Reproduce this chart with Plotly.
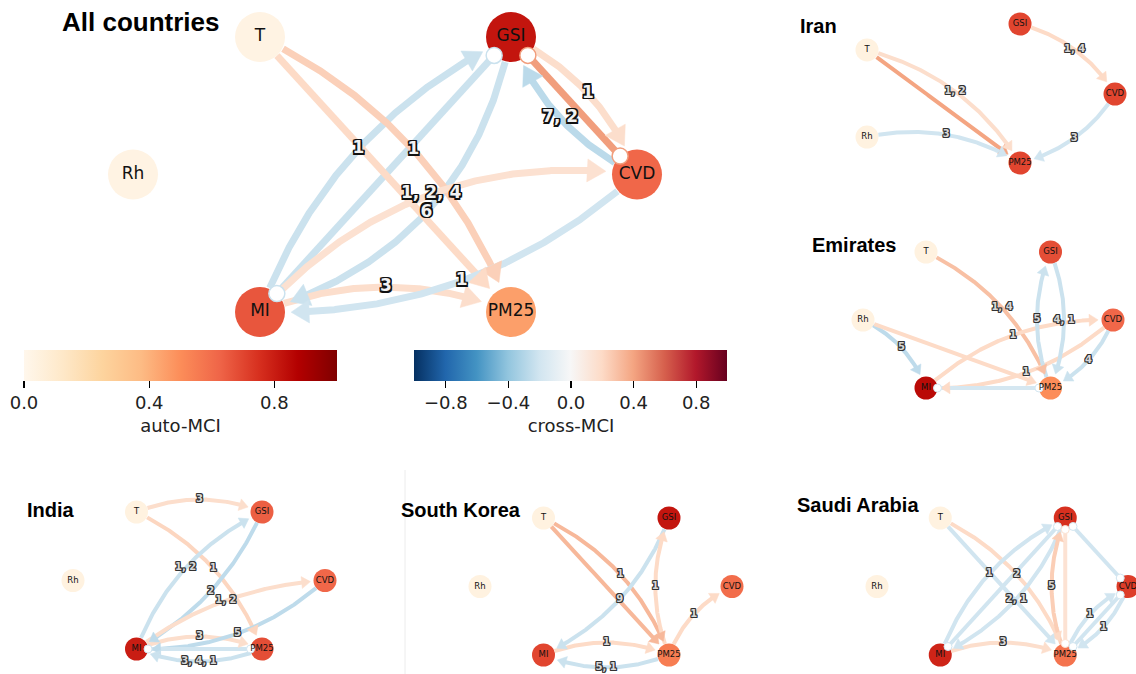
import numpy as np
import plotly.graph_objects as go

# ------------------------------------------------------------------ data
NODES = ["T", "Rh", "GSI", "CVD", "MI", "PM25"]
PANELS = ["All countries", "Iran", "Emirates", "India", "South Korea", "Saudi Arabia"]

# auto-MCI of every node (order of NODES); None = variable absent from that graph
auto_all = [0.03, 0.03, 0.82, 0.62, 0.66, 0.45]
auto_iran = [0.04, 0.04, 0.70, 0.70, None, 0.70]
auto_emirates = [0.04, 0.04, 0.68, 0.62, 0.85, 0.50]
auto_india = [0.04, 0.04, 0.64, 0.62, 0.80, 0.68]
auto_korea = [0.04, 0.04, 0.82, 0.60, 0.70, 0.55]
auto_saudi = [0.04, 0.04, 0.75, 0.72, 0.78, 0.58]

# links: (source, target, cross-MCI, lag label, type)
#   lag = lagged link (curved arrow), con = contemporaneous directed, oo = contemporaneous o-o
links_all = [
    ("MI", "GSI", -0.22, "1", "lag"),
    ("GSI", "MI", -0.22, "6", "lag"),
    ("MI", "GSI", -0.22, "", "oo"),
    ("T", "PM25", 0.24, "1", "lag"),
    ("T", "PM25", 0.20, "", "con"),
    ("MI", "CVD", 0.16, "1, 2, 4", "lag"),
    ("MI", "PM25", 0.18, "3", "lag"),
    ("CVD", "MI", -0.20, "1", "lag"),
    ("GSI", "CVD", 0.18, "1", "lag"),
    ("CVD", "GSI", -0.27, "7, 2", "lag"),
    ("GSI", "CVD", 0.42, "", "oo"),
]
links_iran = [
    ("T", "PM25", 0.40, "", "con"),
    ("T", "PM25", 0.18, "1, 2", "lag"),
    ("Rh", "PM25", -0.20, "3", "lag"),
    ("GSI", "CVD", 0.20, "1, 4", "lag"),
    ("CVD", "PM25", -0.20, "3", "lag"),
]
links_emirates = [
    ("T", "PM25", 0.30, "1, 4", "lag"),
    ("Rh", "MI", -0.26, "5", "lag"),
    ("Rh", "PM25", 0.20, "", "con"),
    ("MI", "CVD", 0.20, "1", "lag"),
    ("CVD", "MI", 0.20, "1", "lag"),
    ("PM25", "GSI", -0.22, "5", "lag"),
    ("GSI", "PM25", -0.22, "4, 1", "lag"),
    ("CVD", "PM25", -0.22, "4", "lag"),
    ("MI", "PM25", -0.18, "", "oo"),
]
links_india = [
    ("T", "GSI", 0.18, "3", "lag"),
    ("T", "PM25", 0.22, "1", "lag"),
    ("MI", "GSI", -0.22, "1, 2", "lag"),
    ("GSI", "MI", -0.26, "2", "lag"),
    ("MI", "CVD", 0.18, "1, 2", "lag"),
    ("MI", "PM25", 0.18, "3", "lag"),
    ("CVD", "MI", -0.26, "5", "lag"),
    ("PM25", "MI", -0.22, "3, 4, 1", "lag"),
    ("MI", "PM25", -0.20, "", "oo"),
]
links_korea = [
    ("T", "PM25", 0.33, "1", "lag"),
    ("T", "PM25", 0.33, "", "con"),
    ("GSI", "MI", -0.22, "9", "lag"),
    ("PM25", "GSI", 0.20, "1", "lag"),
    ("PM25", "CVD", 0.20, "1", "lag"),
    ("MI", "PM25", 0.20, "1", "lag"),
    ("PM25", "MI", -0.22, "5, 1", "lag"),
]
links_saudi = [
    ("T", "PM25", 0.20, "2", "lag"),
    ("T", "PM25", -0.20, "", "con"),
    ("MI", "GSI", -0.20, "1", "lag"),
    ("GSI", "MI", -0.20, "2, 1", "lag"),
    ("MI", "GSI", -0.20, "", "oo"),
    ("MI", "PM25", 0.18, "3", "lag"),
    ("PM25", "GSI", 0.25, "5", "lag"),
    ("PM25", "GSI", 0.15, "", "oo"),
    ("GSI", "CVD", -0.20, "", "oo"),
    ("PM25", "CVD", -0.20, "1", "lag"),
    ("CVD", "PM25", -0.20, "1", "lag"),
    ("PM25", "CVD", -0.20, "", "oo"),
]

AUTO_TICKS = [0.0, 0.4, 0.8]
CROSS_TICKS = [-0.8, -0.4, 0.0, 0.4, 0.8]

AUTO = dict(zip(PANELS, [auto_all, auto_iran, auto_emirates, auto_india, auto_korea, auto_saudi]))
LINKS = dict(zip(PANELS, [links_all, links_iran, links_emirates, links_india, links_korea, links_saudi]))

# ------------------------------------------------------------------ layout / style
W, H = 1136, 674
ORRD = [[0, "#fff7ec"], [0.125, "#fee8c8"], [0.25, "#fdd49e"], [0.375, "#fdbb84"],
        [0.5, "#fc8d59"], [0.625, "#ef6548"], [0.75, "#d7301f"], [0.875, "#b30000"], [1, "#7f0000"]]
RDBU_R = [[0, "#053061"], [0.1, "#2166ac"], [0.2, "#4393c3"], [0.3, "#92c5de"], [0.4, "#d1e5f0"],
          [0.5, "#f7f7f7"], [0.6, "#fddbc7"], [0.7, "#f4a582"], [0.8, "#d6604d"], [0.9, "#b2182b"],
          [1, "#67001f"]]

GRID = {"Rh": (0, 0.5), "T": (0.252, 0), "MI": (0.252, 1), "GSI": (0.75, 0), "PM25": (0.75, 1), "CVD": (1, 0.5)}
IRAN_GRID = {"T": (0, 0.187), "GSI": (0.617, 0), "Rh": (0, 0.813), "CVD": (1, 0.504), "PM25": (0.617, 1)}
BOX = {
    "All countries": (133, 37, 504, 275),
    "Iran": (867, 24, 248, 139),
    "Emirates": (863, 252, 250, 136),
    "India": (73, 512, 252, 137),
    "South Korea": (480, 518, 252, 137),
    "Saudi Arabia": (877, 518, 251, 137),
}
TITLE_POS = {
    "All countries": (60, 22, 26),
    "Iran": (798, 26, 20),
    "Emirates": (810, 245, 20),
    "India": (25, 510, 20),
    "South Korea": (399, 510, 20),
    "Saudi Arabia": (795, 505, 20),
}
BIG = dict(node_d=50, node_fs=17, lw=7, head_len=19, head_w=23, circ_d=16, lab_fs=17, gap=6, circ_lw=1.5)
SMALL = dict(node_d=23, node_fs=8.5, lw=4, head_len=9, head_w=12, circ_d=8, lab_fs=10, gap=3, circ_lw=1)
CURV = -0.2
CURV_OVERRIDE = {("All countries", "MI", "CVD"): -0.26, ("All countries", "GSI", "MI"): -0.3,
                 ("India", "MI", "CVD"): -0.15, ("India", "GSI", "MI"): -0.17}


def hex2rgb(h):
    h = h.lstrip("#")
    return np.array([int(h[i:i + 2], 16) for i in (0, 2, 4)], float)


def cmap(scale, t):
    t = min(max(t, 0.0), 1.0)
    for (a, ca), (b, cb) in zip(scale[:-1], scale[1:]):
        if a <= t <= b:
            f = (t - a) / (b - a) if b > a else 0
            c = hex2rgb(ca) * (1 - f) + hex2rgb(cb) * f
            return "rgb(%d,%d,%d)" % tuple(np.round(c))
    return scale[-1][1]


def cross_color(v):
    return cmap(RDBU_R, (v + 1) / 2)


def curve(p0, p2, c, n=400):
    d = p2 - p0
    nrm = np.array([-d[1], d[0]])
    p1 = (p0 + p2) / 2 + c * nrm
    t = np.linspace(0, 1, n)[:, None]
    return (1 - t) ** 2 * p0 + 2 * (1 - t) * t * p1 + t ** 2 * p2


fig = go.Figure()
edge_traces, head_traces, circ_traces = [], [], []
label_x, label_y, label_t, label_fs = [], [], [], []
node_text_traces = []

for panel in PANELS:
    st = BIG if panel == "All countries" else SMALL
    x0, y0, w, h = BOX[panel]
    grid = IRAN_GRID if panel == "Iran" else GRID
    pos = {k: np.array([x0 + gx * w, y0 + gy * h]) for k, (gx, gy) in grid.items()}
    r = st["node_d"] / 2

    # nodes
    names = [n for n, v in zip(NODES, AUTO[panel]) if v is not None]
    vals = [v for v in AUTO[panel] if v is not None]
    fig.add_trace(go.Scatter(
        x=[pos[n][0] for n in names], y=[pos[n][1] for n in names], mode="markers",
        marker=dict(size=st["node_d"], color=vals, coloraxis="coloraxis", line=dict(width=0)),
        hoverinfo="skip", showlegend=False))
    node_text_traces.append(go.Scatter(
        x=[pos[n][0] for n in names], y=[pos[n][1] for n in names], mode="text", text=names,
        textposition="middle center",
        textfont=dict(family="DejaVu Sans", size=st["node_fs"], color="#111"),
        hoverinfo="skip", showlegend=False))

    for src, dst, val, lab, kind in LINKS[panel]:
        col = cross_color(val)
        p0, p2 = pos[src].astype(float), pos[dst].astype(float)
        if kind == "oo":
            u = (p2 - p0) / np.linalg.norm(p2 - p0)
            a, b = p0 + u * r, p2 - u * r
            edge_traces.append(go.Scatter(x=[a[0], b[0]], y=[a[1], b[1]], mode="lines",
                                          line=dict(color=col, width=st["lw"]),
                                          hoverinfo="skip", showlegend=False))
            circ_traces.append(go.Scatter(x=[a[0], b[0]], y=[a[1], b[1]], mode="markers",
                                          marker=dict(size=st["circ_d"], color="white",
                                                      line=dict(color=col, width=st["circ_lw"])),
                                          hoverinfo="skip", showlegend=False))
            continue
        c = CURV_OVERRIDE.get((panel, src, dst), CURV) if kind == "lag" else 0.0
        pts = curve(p0, p2, c)
        ds = np.linalg.norm(pts - p0, axis=1)
        dd = np.linalg.norm(pts - p2, axis=1)
        i0 = int(np.argmax(ds >= r))
        itip = int(np.where(dd >= r + st["gap"])[0][-1])
        seg = np.r_[0, np.cumsum(np.linalg.norm(np.diff(pts, axis=0), axis=1))]
        ibase = int(np.where(seg[itip] - seg <= st["head_len"])[0][0])
        tip, base = pts[itip], pts[ibase]
        u = (tip - base) / np.linalg.norm(tip - base)
        pp = np.array([-u[1], u[0]])
        line_pts = pts[i0:min(ibase + 6, itip)]
        edge_traces.append(go.Scatter(x=line_pts[:, 0], y=line_pts[:, 1], mode="lines",
                                      line=dict(color=col, width=st["lw"]),
                                      hoverinfo="skip", showlegend=False))
        hw = st["head_w"] / 2
        poly = np.array([tip, base + pp * hw, base - pp * hw, tip])
        head_traces.append(go.Scatter(x=poly[:, 0], y=poly[:, 1], mode="lines", fill="toself",
                                      fillcolor=col, line=dict(color=col, width=0.5),
                                      hoverinfo="skip", showlegend=False))
        if lab:
            mid = pts[len(pts) // 2]
            label_x.append(mid[0]); label_y.append(mid[1]); label_t.append(lab)
            label_fs.append(st["lab_fs"])

for tr in edge_traces + head_traces + circ_traces + node_text_traces:
    fig.add_trace(tr)


def outline(px, col):
    s = []
    for dx in (-px, 0, px):
        for dy in (-px, 0, px):
            if dx or dy:
                s.append("%gpx %gpx 0 %s" % (dx, dy, col))
    return ", ".join(s)


big_idx = [i for i, f in enumerate(label_fs) if f == BIG["lab_fs"]]
small_idx = [i for i, f in enumerate(label_fs) if f != BIG["lab_fs"]]
for idx, fs, ow, fc, oc in [(big_idx, BIG["lab_fs"], 1.5, "#f2f2f2", "#111"),
                            (small_idx, SMALL["lab_fs"], 1, "#d8d8d8", "#333")]:
    fig.add_trace(go.Scatter(
        x=[label_x[i] for i in idx], y=[label_y[i] for i in idx], mode="text",
        text=[label_t[i] for i in idx], textposition="middle center",
        textfont=dict(family="DejaVu Sans", size=fs, color=fc, weight="bold", shadow=outline(ow, oc)),
        hoverinfo="skip", showlegend=False))

# dummy trace carrying the cross-MCI colour bar
fig.add_trace(go.Scatter(x=[-500, -500], y=[-500, -500], mode="markers",
                         marker=dict(color=[-1, 1], coloraxis="coloraxis2", size=1),
                         hoverinfo="skip", showlegend=False))

for name, (tx, ty, fs) in TITLE_POS.items():
    fig.add_annotation(x=tx, y=ty, xref="x", yref="y", text=name, showarrow=False,
                       xanchor="left", yanchor="middle",
                       font=dict(family="Liberation Sans", size=fs, color="black", weight="bold"))

fig.add_shape(type="line", x0=405, x1=405, y0=470, y1=674, xref="x", yref="y",
              line=dict(color="#ececec", width=1))


def cbar(xc, title, ticks):
    return dict(
        orientation="h", x=xc / W, xanchor="center", y=1 - 350 / H, yanchor="top",
        len=313, lenmode="pixels", thickness=31, thicknessmode="pixels",
        outlinewidth=0, xpad=0, ypad=0,
        ticks="outside", ticklen=7, tickwidth=1.2, tickcolor="black",
        tickvals=ticks, ticktext=[("%.1f" % v).replace("-", "\u2212") for v in ticks],
        tickfont=dict(family="DejaVu Sans", size=18, color="#222"),
        title=dict(text=title, side="bottom", font=dict(family="DejaVu Sans", size=18, color="#222")),
    )


fig.update_layout(
    width=W, height=H, margin=dict(l=0, r=0, t=0, b=0),
    paper_bgcolor="white", plot_bgcolor="white",
    xaxis=dict(range=[0, W], visible=False, fixedrange=True),
    yaxis=dict(range=[H, 0], visible=False, fixedrange=True),
    coloraxis=dict(colorscale=ORRD, cmin=0, cmax=1, colorbar=cbar(180.5, "auto-MCI", AUTO_TICKS)),
    coloraxis2=dict(colorscale=RDBU_R, cmin=-1, cmax=1, colorbar=cbar(571, "cross-MCI", CROSS_TICKS)),
    showlegend=False,
)

fig.write_html("out.html", config={"displayModeBar": False, "staticPlot": True})
with open("out.html", encoding="utf-8") as f:
    html = f.read()
html = html.replace("<body>", '<body style="margin:0;overflow:hidden">', 1)
with open("out.html", "w", encoding="utf-8") as f:
    f.write(html)
